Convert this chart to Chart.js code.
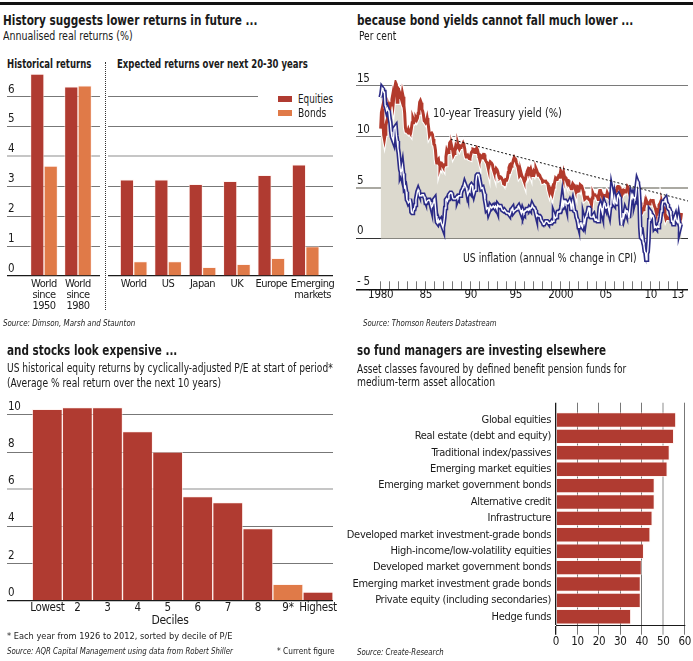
<!DOCTYPE html>
<html>
<head>
<meta charset="utf-8">
<script src="https://cdn.jsdelivr.net/npm/chart.js@4.4.1/dist/chart.umd.min.js"></script>
<style>
  html, body { margin: 0; padding: 0; background: #fff; }
  body { width: 693px; height: 661px; position: relative; overflow: hidden;
         font-family: "DejaVu Sans Condensed", "Liberation Sans", sans-serif; color: #1a1a1a; }
  .t { position: absolute; white-space: nowrap; line-height: 1; transform-origin: 0 50%; }
  .title { font-weight: bold; font-size: 13.5px; }
  .sub { font-size: 12px; }
  .head { font-weight: bold; font-size: 11.5px; }
  .src { font-size: 9.5px; font-style: italic; }
  .note { font-size: 9.5px; }
  canvas { position: absolute; }
  .rule { position: absolute; left: 0; top: 2px; width: 693px; height: 3px; background: #111; }
  .sep { position: absolute; left: 105px; top: 62px; height: 248px; border-left: 1px dotted #333; }
  .legend { position: absolute; left: 258px; top: 91px; width: 76px; height: 28px; background: #fff; }
  .sw { position: absolute; left: 20px; width: 14px; height: 6px; }
</style>
</head>
<body>
<div class="rule"></div>

<!-- panel 1 -->
<div class="t title" data-w="255" style="left:3px; top:14px;">History suggests lower returns in future ...</div>
<div class="t sub" data-w="130" style="left:3px; top:30px;">Annualised real returns (%)</div>
<div class="t head" data-w="84" style="left:7px; top:59px;">Historical returns</div>
<div class="t head" data-w="191" style="left:117px; top:59px;">Expected returns over next 20-30 years</div>
<canvas id="histChart" width="104" height="267" style="left:0; top:55px;"></canvas>
<canvas id="expChart" width="236" height="267" style="left:104px; top:55px;"></canvas>
<div class="sep"></div>
<div class="legend">
  <div class="sw" style="top:5px; background:#b03b31;"></div>
  <div class="t sub" data-w="35" style="left:40px; top:2px;">Equities</div>
  <div class="sw" style="top:19px; background:#e07a48;"></div>
  <div class="t sub" data-w="28" style="left:40px; top:16px;">Bonds</div>
</div>
<div class="t src" data-w="132" style="left:3px; top:318px;">Source: Dimson, Marsh and Staunton</div>

<!-- panel 2 -->
<div class="t title" data-w="276" style="left:357px; top:14px;">because bond yields cannot fall much lower ...</div>
<div class="t sub" data-w="37" style="left:359px; top:30px;">Per cent</div>
<canvas id="yieldChart" width="353" height="245" style="left:340px; top:66px;"></canvas>
<div class="t sub" data-w="129" style="left:433px; top:107px;">10-year Treasury yield (%)</div>
<div class="t sub" data-w="174" style="left:463px; top:252px;">US inflation (annual % change in CPI)</div>
<div class="t src" data-w="134" style="left:363px; top:318px;">Source: Thomson Reuters Datastream</div>

<!-- panel 3 -->
<div class="t title" data-w="170" style="left:7px; top:344px;">and stocks look expensive ...</div>
<div class="t sub" data-w="326" style="left:7px; top:362px;">US historical equity returns by cyclically-adjusted P/E at start of period*</div>
<div class="t sub" data-w="214" style="left:7px; top:377px;">(Average % real return over the next 10 years)</div>
<canvas id="decileChart" width="340" height="235" style="left:0; top:395px;"></canvas>
<div class="t note" data-w="225" style="left:7px; top:631px;">* Each year from 1926 to 2012, sorted by decile of P/E</div>
<div class="t src" data-w="226" style="left:7px; top:646px;">Source: AQR Capital Management using data from Robert Shiller</div>
<div class="t note" data-w="58" style="left:277px; top:646px;">* Current figure</div>

<!-- panel 4 -->
<div class="t title" data-w="249" style="left:357px; top:344px;">so fund managers are investing elsewhere</div>
<div class="t sub" data-w="269" style="left:357px; top:363px;">Asset classes favoured by defined benefit pension funds for</div>
<div class="t sub" data-w="138" style="left:357px; top:376px;">medium-term asset allocation</div>
<canvas id="assetChart" width="353" height="262" style="left:340px; top:390px;"></canvas>
<div class="t src" data-w="87" style="left:357px; top:647px;">Source: Create-Research</div>

<script>
// ============================
// Data
// ============================
const histLabels = [['World', 'since', '1950'], ['World', 'since', '1980']];
const histEquities = [6.75, 6.33];
const histBonds = [3.68, 6.36];

const expLabels = ['World', 'US', 'Japan', 'UK', 'Europe', ['Emerging', 'markets']];
const expEquities = [3.22, 3.22, 3.07, 3.17, 3.37, 3.72];
const expBonds = [0.48, 0.48, 0.29, 0.39, 0.59, 0.98];

// monthly, Jan 1980 .. Jun 2013
const startYear = 1980;
const yieldPct = [
  10.8, 12.4, 12.75, 11.47, 10.18, 9.78, 10.25, 11.1, 11.51, 11.75, 12.68, 12.84,
  12.57, 13.19, 13.12, 13.68, 14.1, 13.47, 14.28, 14.94, 15.32, 15.15, 13.39, 13.72,
  14.59, 14.43, 13.86, 13.87, 13.62, 14.3, 13.95, 13.06, 12.34, 10.91, 10.55, 10.54,
  10.46, 10.72, 10.51, 10.4, 10.38, 10.85, 11.38, 11.85, 11.65, 11.54, 11.69, 11.83,
  11.67, 11.84, 12.32, 12.63, 13.41, 13.56, 13.36, 12.72, 12.52, 12.16, 11.57, 11.5,
  11.38, 11.51, 11.86, 11.43, 10.85, 10.16, 10.31, 10.33, 10.37, 10.24, 9.78, 9.26,
  9.19, 8.7, 7.78, 7.3, 7.71, 7.8, 7.3, 7.17, 7.45, 7.43, 7.25, 7.11,
  7.08, 7.25, 7.25, 8.02, 8.61, 8.4, 8.45, 8.76, 9.42, 9.52, 8.86, 8.99,
  8.67, 8.21, 8.37, 8.72, 9.09, 8.92, 9.06, 9.26, 8.98, 8.8, 8.96, 9.11,
  9.09, 9.17, 9.36, 9.18, 8.86, 8.28, 8.02, 8.11, 8.19, 8.01, 7.87, 7.84,
  8.21, 8.47, 8.59, 8.79, 8.76, 8.48, 8.47, 8.75, 8.89, 8.72, 8.39, 8.08,
  8.09, 7.85, 8.11, 8.04, 8.07, 8.28, 8.27, 7.9, 7.65, 7.53, 7.42, 7.09,
  7.03, 7.34, 7.54, 7.48, 7.39, 7.26, 6.84, 6.59, 6.42, 6.59, 6.87, 6.77,
  6.6, 6.26, 5.98, 5.97, 6.04, 5.96, 5.81, 5.68, 5.36, 5.33, 5.72, 5.77,
  5.75, 5.97, 6.48, 6.97, 7.18, 7.1, 7.3, 7.24, 7.46, 7.74, 7.96, 7.81,
  7.78, 7.47, 7.2, 7.06, 6.63, 6.17, 6.28, 6.49, 6.2, 6.04, 5.93, 5.71,
  5.65, 5.81, 6.27, 6.51, 6.74, 6.91, 6.87, 6.64, 6.83, 6.53, 6.2, 6.3,
  6.58, 6.42, 6.69, 6.89, 6.71, 6.49, 6.22, 6.3, 6.21, 6.03, 5.88, 5.81,
  5.54, 5.57, 5.65, 5.64, 5.65, 5.5, 5.46, 5.34, 4.81, 4.53, 4.83, 4.65,
  4.72, 5.0, 5.23, 5.18, 5.54, 5.9, 5.79, 5.94, 5.92, 6.11, 6.03, 6.28,
  6.66, 6.52, 6.26, 5.99, 6.44, 6.1, 6.05, 5.83, 5.8, 5.74, 5.72, 5.24,
  5.16, 5.1, 4.89, 5.14, 5.39, 5.28, 5.24, 4.97, 4.73, 4.57, 4.65, 5.09,
  5.04, 4.91, 5.28, 5.21, 5.16, 4.93, 4.65, 4.26, 3.87, 3.94, 4.05, 4.03,
  4.05, 3.9, 3.81, 3.96, 3.57, 3.33, 3.98, 4.45, 4.27, 4.29, 4.3, 4.27,
  4.15, 4.08, 3.83, 4.35, 4.72, 4.73, 4.5, 4.28, 4.13, 4.1, 4.19, 4.23,
  4.22, 4.17, 4.5, 4.34, 4.14, 4.0, 4.18, 4.26, 4.2, 4.46, 4.54, 4.47,
  4.42, 4.57, 4.72, 4.99, 5.11, 5.11, 5.09, 4.88, 4.72, 4.73, 4.6, 4.56,
  4.76, 4.72, 4.56, 4.69, 4.75, 5.1, 5.0, 4.67, 4.52, 4.53, 4.15, 4.1,
  3.74, 3.74, 3.51, 3.68, 3.88, 4.1, 4.01, 3.89, 3.69, 3.81, 3.53, 2.42,
  2.52, 2.87, 2.82, 2.93, 3.29, 3.72, 3.56, 3.59, 3.4, 3.39, 3.4, 3.59,
  3.73, 3.69, 3.73, 3.85, 3.42, 3.2, 3.01, 2.7, 2.65, 2.54, 2.76, 3.29,
  3.39, 3.58, 3.41, 3.46, 3.17, 3.0, 3.0, 2.3, 1.98, 2.15, 2.01, 1.98,
  1.97, 1.97, 2.17, 2.05, 1.8, 1.62, 1.53, 1.68, 1.72, 1.75, 1.65, 1.72,
  1.91, 1.98, 1.96, 1.76, 1.93, 2.5
];
const inflationPct = [
  13.9, 14.2, 14.8, 14.7, 14.4, 14.4, 13.1, 12.9, 12.6, 12.8, 12.6, 12.5,
  11.8, 11.4, 10.5, 10.0, 9.8, 9.6, 10.8, 10.8, 11.0, 10.1, 9.6, 8.9,
  8.4, 7.6, 6.8, 6.5, 6.7, 7.1, 6.4, 5.9, 5.0, 5.1, 4.6, 3.8,
  3.7, 3.5, 3.6, 3.9, 3.5, 2.6, 2.5, 2.6, 2.9, 2.9, 3.3, 3.8,
  4.2, 4.6, 4.8, 4.6, 4.2, 4.2, 4.2, 4.3, 4.3, 4.3, 4.1, 3.9,
  3.5, 3.5, 3.7, 3.7, 3.8, 3.8, 3.6, 3.3, 3.1, 3.2, 3.5, 3.8,
  3.9, 3.1, 2.2, 1.6, 1.5, 1.8, 1.6, 1.6, 1.8, 1.5, 1.3, 1.1,
  1.5, 2.1, 3.0, 3.8, 3.9, 3.7, 3.9, 4.3, 4.4, 4.5, 4.5, 4.4,
  4.0, 3.9, 3.9, 3.9, 3.9, 4.0, 4.1, 4.0, 4.2, 4.2, 4.2, 4.4,
  4.7, 4.8, 5.0, 5.1, 5.4, 5.2, 5.0, 4.7, 4.3, 4.5, 4.7, 4.6,
  5.2, 5.3, 5.2, 4.7, 4.4, 4.7, 4.8, 5.6, 6.2, 6.3, 6.3, 6.1,
  5.7, 5.3, 4.9, 4.9, 5.0, 4.7, 4.4, 3.8, 3.4, 2.9, 3.0, 3.1,
  2.6, 2.8, 3.2, 3.2, 3.0, 3.1, 3.2, 3.1, 3.0, 3.2, 3.1, 2.9,
  3.3, 3.2, 3.1, 3.2, 3.2, 3.0, 2.8, 2.8, 2.7, 2.8, 2.7, 2.7,
  2.5, 2.5, 2.5, 2.4, 2.3, 2.5, 2.8, 2.9, 3.0, 2.6, 2.7, 2.7,
  2.8, 2.9, 2.9, 3.1, 3.2, 3.0, 2.8, 2.6, 2.5, 2.8, 2.6, 2.5,
  2.7, 2.7, 2.8, 2.9, 2.9, 2.8, 3.0, 2.9, 3.0, 3.0, 3.3, 3.3,
  3.0, 3.0, 2.8, 2.5, 2.2, 2.3, 2.2, 2.2, 2.2, 2.1, 1.8, 1.7,
  1.6, 1.4, 1.4, 1.4, 1.7, 1.7, 1.7, 1.6, 1.5, 1.5, 1.5, 1.6,
  1.7, 1.6, 1.7, 2.3, 2.1, 2.0, 2.1, 2.3, 2.6, 2.6, 2.6, 2.7,
  2.7, 3.2, 3.8, 3.1, 3.2, 3.7, 3.7, 3.4, 3.5, 3.4, 3.4, 3.4,
  3.7, 3.5, 2.9, 3.3, 3.6, 3.2, 2.7, 2.7, 2.6, 2.1, 1.9, 1.6,
  1.1, 1.1, 1.5, 1.6, 1.2, 1.1, 1.5, 1.8, 1.5, 2.0, 2.2, 2.4,
  2.6, 3.0, 3.0, 2.2, 2.1, 2.1, 2.1, 2.2, 2.3, 2.0, 1.8, 1.9,
  1.9, 1.7, 1.7, 2.3, 3.1, 3.3, 3.0, 2.7, 2.5, 3.2, 3.5, 3.3,
  3.0, 3.0, 3.1, 3.5, 2.8, 2.5, 3.2, 3.6, 4.7, 4.3, 3.5, 3.4,
  4.0, 3.6, 3.4, 3.5, 4.2, 4.3, 4.1, 3.8, 2.1, 1.3, 2.0, 2.5,
  2.1, 2.4, 2.8, 2.6, 2.7, 2.7, 2.4, 2.0, 2.8, 3.5, 4.3, 4.1,
  4.3, 4.0, 4.0, 3.9, 4.2, 5.0, 5.6, 5.4, 4.9, 3.7, 1.1, 0.1,
  0.0, 0.2, -0.4, -0.7, -1.3, -1.4, -2.1, -1.5, -1.3, -0.2, 1.8, 2.7,
  2.6, 2.1, 2.3, 2.2, 2.0, 1.1, 1.2, 1.1, 1.1, 1.2, 1.1, 1.5,
  1.6, 2.1, 2.7, 3.2, 3.6, 3.6, 3.6, 3.8, 3.9, 3.5, 3.4, 3.0,
  2.9, 2.9, 2.7, 2.3, 1.7, 1.7, 1.4, 1.7, 2.0, 2.2, 1.8, 1.7,
  1.6, 2.0, 1.5, 1.1, 1.4, 1.4
];
// dotted trend line end points
const trendYears = [1987.8, 2014.3];
const trendValues = [9.75, 3.65];
const yearLabels = { 1980: '1980', 1985: '85', 1990: '90', 1995: '95', 2000: '2000', 2005: '05', 2010: '10', 2013: '13' };

const decileLabels = ['Lowest', '2', '3', '4', '5', '6', '7', '8', '9*', 'Highest'];
const decileReturns = [10.3, 10.4, 10.4, 9.1, 8.0, 5.6, 5.28, 3.88, 0.88, 0.47];
const currentDecile = 8;

const assetLabels = [
  'Global equities', 'Real estate (debt and equity)', 'Traditional index/passives',
  'Emerging market equities', 'Emerging market government bonds', 'Alternative credit',
  'Infrastructure', 'Developed market investment-grade bonds', 'High-income/low-volatility equities',
  'Developed market government bonds', 'Emerging market investment grade bonds',
  'Private equity (including secondaries)', 'Hedge funds'
];
const assetShares = [56, 55, 53, 52, 46, 46, 45, 44, 41, 40, 39.5, 39.5, 35];

// ============================
// Text: squeeze each HTML label to the printed width
// ============================
document.querySelectorAll('.t[data-w]').forEach(el => {
    const w = parseFloat(el.dataset.w);
    el.style.transform = 'scaleX(' + (w / el.offsetWidth).toFixed(3) + ')';
});

// ============================
// Shared chart styles
// ============================
const FONT = '"DejaVu Sans Condensed", "Liberation Sans", sans-serif';
Chart.defaults.font.family = FONT;
Chart.defaults.font.size = 11;
Chart.defaults.color = '#1a1a1a';
Chart.defaults.animation = false;
Chart.defaults.responsive = false;
Chart.defaults.plugins.legend.display = false;
Chart.defaults.plugins.tooltip.enabled = false;

// canvas text a little tighter, closer to the narrow print face
Chart.register({
    id: 'tightText',
    defaults: { spacing: '-0.3px' },
    beforeUpdate(chart, args, opts) { chart.ctx.letterSpacing = opts.spacing; },
    beforeDraw(chart, args, opts) { chart.ctx.letterSpacing = opts.spacing; }
});

const RED = '#b03b31';
const ORANGE = '#e07a48';
const EDGE = 'rgba(255,235,230,0.55)';
const TICKFONT = { size: 11.5, lineHeight: 1 };
const CATFONT = { size: 11, lineHeight: 1 };

// gridline colour: dark at the base, light band for one line like the print
function gridColor(base, light) {
    return (c) => c.tick.value === base ? '#1a1a1a' : (c.tick.value === light ? '#c6c6c6' : '#777');
}
function gridWidth(base, light) {
    return (c) => c.tick.value === light ? 2 : (c.tick.value === base ? 1.3 : 1);
}

function keepTicks(values) {
    return (s) => { s.ticks = values.map(v => ({ value: v })); };
}

// ============================
// Panel 1: returns
// ============================
function returnsChart(id, labels, eq, bd, xmin, xmax, showY, pad, nudgeLast) {
    // the last label of the expected-returns chart sits a little right of its bars
    const tickPos = labels.map((l, i) => i + 1 + (nudgeLast && i === labels.length - 1 ? 0.2 : 0));
    return new Chart(document.getElementById(id), {
        type: 'bar',
        data: {
            datasets: [
                { data: eq.map((v, i) => ({ x: i + 1, y: v })), backgroundColor: RED, borderColor: EDGE, borderWidth: 1, barThickness: 13.5 },
                { data: bd.map((v, i) => ({ x: i + 1, y: v })), backgroundColor: ORANGE, borderColor: EDGE, borderWidth: 1, barThickness: 13.5 }
            ]
        },
        options: {
            layout: { padding: pad },
            plugins: { tightText: { spacing: '-0.5px' } },
            scales: {
                x: {
                    type: 'linear', min: xmin, max: xmax, offset: false,
                    afterBuildTicks: keepTicks(tickPos),
                    afterFit: (s) => { s.height = 46; },
                    grid: { display: false, drawTicks: false, offset: false },
                    border: { display: false },
                    ticks: { padding: 3, font: CATFONT, maxRotation: 0, autoSkip: false,
                             callback: (v, i) => labels[i] }
                },
                y: {
                    min: 0, max: 7,
                    afterBuildTicks: keepTicks([0, 1, 2, 3, 4, 5, 6]),
                    afterFit: (s) => { s.width = 0; },
                    grid: { color: gridColor(0, 4), lineWidth: gridWidth(0, 4), drawTicks: false },
                    border: { display: false },
                    ticks: { display: showY, mirror: true, padding: 1, labelOffset: -7, font: TICKFONT }
                }
            }
        }
    });
}

returnsChart('histChart', histLabels, histEquities, histBonds, 1 - 37 / 34, 2 + 22 / 34, true,
             { left: 7, right: 4, top: 11.7, bottom: 0 }, false);
returnsChart('expChart', expLabels, expEquities, expBonds, 1 - 25.7 / 34.4, 6 + 27.3 / 34.4, false,
             { left: 4, right: 7, top: 11.7, bottom: 0 }, true);

// ============================
// Panel 2: yields and inflation
// ============================
const monthX = (i) => startYear + i / 12;
const yieldPts = yieldPct.map((v, i) => ({ x: monthX(i), y: v }));
const inflPts = inflationPct.map((v, i) => ({ x: monthX(i), y: v }));
const shadePts = yieldPct.map((v, i) => ({ x: monthX(i), y: Math.max(v, inflationPct[i], 0) }));
const trendPts = trendYears.map((x, i) => ({ x, y: trendValues[i] }));
const years = [];
for (let y = 1980; y <= 2013; y++) years.push(y);

new Chart(document.getElementById('yieldChart'), {
    type: 'line',
    data: {
        datasets: [
            { data: trendPts, borderColor: '#111', borderWidth: 1, borderDash: [2, 2], pointRadius: 0, order: 0 },
            { data: inflPts, borderColor: '#fff', borderWidth: 1.4, pointRadius: 0, order: 1 },
            { data: inflPts, borderColor: '#2b2b86', borderWidth: 4.6, pointRadius: 0, order: 2 },
            { data: yieldPts, borderColor: '#b23a2c', borderWidth: 3, pointRadius: 0, order: 3 },
            { data: yieldPts, borderColor: '#fff', borderWidth: 5, pointRadius: 0, order: 4 },
            { data: shadePts, borderWidth: 0, borderColor: 'rgba(0,0,0,0)', backgroundColor: '#dcd9ce',
              fill: 'origin', pointRadius: 0, order: 5 }
        ]
    },
    options: {
        layout: { padding: { left: 16, right: 5, top: 13.9, bottom: 0 } },
        scales: {
            x: {
                type: 'linear', min: 1977.26, max: 2014.14,
                afterBuildTicks: keepTicks(years),
                afterFit: (s) => { s.height = 245 - 223.3; },
                grid: { drawOnChartArea: false, tickLength: -8, color: '#777', lineWidth: 1 },
                border: { display: false },
                ticks: { padding: 8, autoSkip: false, maxRotation: 0, font: TICKFONT,
                         callback: (v) => yearLabels[v] || '' }
            },
            y: {
                min: -5, max: 15.6,
                afterBuildTicks: keepTicks([-5, 0, 5, 10, 15]),
                afterFit: (s) => { s.width = 0; },
                grid: { color: (c) => c.tick.value === -5 ? '#111' : (c.tick.value === 0 ? '#333' : (c.tick.value === 5 ? '#aaa9a2' : '#7a7a7a')),
                        lineWidth: (c) => c.tick.value === -5 ? 1.5 : (c.tick.value === 5 ? 2 : 1), drawTicks: false },
                border: { display: false },
                ticks: { mirror: true, padding: 1, labelOffset: -7, font: TICKFONT,
                         callback: (v) => String(v).replace('-', '- ') }
            }
        }
    }
});

// ============================
// Panel 3: returns by P/E decile
// ============================
new Chart(document.getElementById('decileChart'), {
    type: 'bar',
    data: {
        datasets: [{
            data: decileReturns.map((v, i) => ({ x: i + 1, y: v })),
            backgroundColor: decileReturns.map((v, i) => i === currentDecile ? ORANGE : RED),
            borderColor: EDGE, borderWidth: 1,
            barPercentage: 1, categoryPercentage: 1
        }]
    },
    options: {
        layout: { padding: { left: 7, right: 7, top: 10.7, bottom: 0 } },
        scales: {
            x: {
                type: 'linear', min: 1 - 40.3 / 30.07, max: 10 + 15 / 30.07, offset: false,
                afterBuildTicks: keepTicks(decileLabels.map((l, i) => i + 1)),
                afterFit: (s) => { s.height = 235 - 205.7; },
                grid: { display: false, drawTicks: false, offset: false },
                border: { display: false },
                title: { display: true, text: 'Deciles', font: { size: 12, lineHeight: 1 }, padding: { top: 0, bottom: 3 } },
                ticks: { padding: 2, autoSkip: false, maxRotation: 0, font: { size: 11.5, lineHeight: 1 },
                         callback: (v, i) => decileLabels[i] }
            },
            y: {
                min: 0, max: 10.5,
                afterBuildTicks: keepTicks([0, 2, 4, 6, 8, 10]),
                afterFit: (s) => { s.width = 0; },
                grid: { color: gridColor(0, 6), lineWidth: gridWidth(0, 6), drawTicks: false },
                border: { display: false },
                ticks: { mirror: true, padding: 1, labelOffset: -8, font: TICKFONT }
            }
        }
    }
});

// ============================
// Panel 4: favoured asset classes
// ============================
new Chart(document.getElementById('assetChart'), {
    type: 'bar',
    data: {
        datasets: [{
            data: assetShares.map((v, i) => ({ x: v, y: i })),
            backgroundColor: RED, borderColor: EDGE, borderWidth: 1,
            barPercentage: 0.94, categoryPercentage: 1
        }]
    },
    options: {
        indexAxis: 'y',
        layout: { padding: { left: 0, right: 8, top: 12.7, bottom: 0 } },
        scales: {
            x: {
                type: 'linear', min: 0, max: 60,
                afterBuildTicks: keepTicks([0, 10, 20, 30, 40, 50, 60]),
                afterFit: (s) => { s.height = 262 - 235.7; },
                grid: { color: gridColor(0, 50), lineWidth: gridWidth(0, 50), tickLength: 9 },
                border: { display: true, color: '#1a1a1a', width: 1 },
                ticks: { padding: 2, font: TICKFONT }
            },
            y: {
                type: 'linear', reverse: true, offset: false,
                min: -(420 - 402.7) / 16.4, max: 12 + (625.7 - 616.8) / 16.4,
                afterBuildTicks: keepTicks(assetLabels.map((l, i) => i)),
                afterFit: (s) => { s.width = 216; },
                grid: { display: false, drawTicks: false, offset: false },
                border: { display: false },
                ticks: { padding: 5, autoSkip: false, font: CATFONT,
                         callback: (v, i) => assetLabels[i] }
            }
        }
    }
});
</script>
</body>
</html>
